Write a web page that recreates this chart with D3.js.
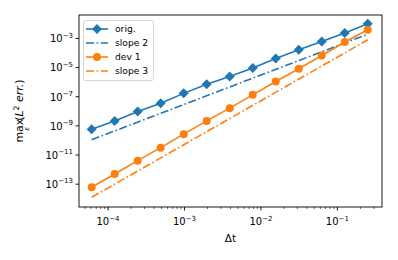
<!DOCTYPE html>
<html><head><meta charset="utf-8">
<script src="https://cdn.jsdelivr.net/npm/d3@7"></script>
<style>html,body{margin:0;padding:0;background:#fff;}svg{display:block;font-family:"DejaVu Sans",sans-serif;}</style>
</head><body>
<svg id="c" width="398" height="260"></svg>
<script>
const dt = [6.103515625e-5, 1.220703125e-4, 2.44140625e-4, 4.8828125e-4, 9.765625e-4, 1.953125e-3, 3.90625e-3, 7.8125e-3, 1.5625e-2, 3.125e-2, 6.25e-2, 0.125, 0.25];
const orig = [5.9e-10, 2.2e-9, 9.6e-9, 3.6e-8, 1.7e-7, 7.3e-7, 2.4e-6, 9.2e-6, 4.2e-5, 1.7e-4, 6.2e-4, 2.35e-3, 1.0e-2];
const dev1 = [6.1e-14, 5.0e-13, 4.1e-12, 3.2e-11, 2.7e-10, 2.2e-9, 1.64e-8, 1.35e-7, 1.11e-6, 8.3e-6, 6.8e-5, 5.7e-4, 3.96e-3];
const slopeDt = [6.103515625e-5, 0.25];
const slope2 = [1.12e-10, 1.95e-3];
const slope3 = [1.26e-14, 8.1e-4];
const xTickExp = [-4, -3, -2, -1];
const yTickExp = [-3, -5, -7, -9, -11, -13];
const legendLabels = ["orig.", "slope 2", "dev 1", "slope 3"];

const C0 = "#1f77b4", C1 = "#ff7f0e";
const L = 79, R = 382, T = 15, B = 207;
const svg = d3.select("#c");
const x = d3.scaleLog().domain([Math.pow(10,-4.380), Math.pow(10,-0.416)]).range([L, R]);
const y = d3.scaleLog().domain([Math.pow(10,-14.567), Math.pow(10,-1.392)]).range([B, T]);

const plot = svg.append("g");
const line = d3.line().x((d,i)=>x(d[0])).y(d=>y(d[1]));
const dashdot = "8,2.6,1.6,2.6";

function series(xs, ys){ return xs.map((v,i)=>[v, ys[i]]); }

plot.append("path").attr("d", line(series(slopeDt, slope2))).attr("fill","none").attr("stroke",C0).attr("stroke-width",1.6).attr("stroke-dasharray",dashdot);
plot.append("path").attr("d", line(series(slopeDt, slope3))).attr("fill","none").attr("stroke",C1).attr("stroke-width",1.6).attr("stroke-dasharray",dashdot);
plot.append("path").attr("d", line(series(dt, orig))).attr("fill","none").attr("stroke",C0).attr("stroke-width",1.6);
plot.append("path").attr("d", line(series(dt, dev1))).attr("fill","none").attr("stroke",C1).attr("stroke-width",1.6);

const dsz = 5;
plot.selectAll("path.dm").data(series(dt, orig)).enter().append("path").attr("class","dm")
  .attr("d", d=>{const cx=x(d[0]), cy=y(d[1]); return `M${cx},${cy-dsz}L${cx+dsz},${cy}L${cx},${cy+dsz}L${cx-dsz},${cy}Z`;})
  .attr("fill",C0);
plot.selectAll("circle.cm").data(series(dt, dev1)).enter().append("circle").attr("class","cm")
  .attr("cx",d=>x(d[0])).attr("cy",d=>y(d[1])).attr("r",4).attr("fill",C1);

// axes frame
svg.append("rect").attr("x",L).attr("y",T).attr("width",R-L).attr("height",B-T).attr("fill","none").attr("stroke","#000").attr("stroke-width",0.9);

// x ticks
const fs = 10;
xTickExp.forEach(e=>{
  const v = Math.pow(10,e), px = x(v);
  svg.append("line").attr("x1",px).attr("x2",px).attr("y1",B).attr("y2",B+3.5).attr("stroke","#000").attr("stroke-width",0.9);
  const t = svg.append("text").attr("x",px).attr("y",B+18).attr("text-anchor","middle").attr("font-size",fs).attr("fill","#000");
  t.append("tspan").text("10");
  t.append("tspan").attr("dy",-4.5).attr("font-size",fs*0.7).text("\u2212"+(-e));
});
const [xd0, xd1] = x.domain();
for(let e=-5;e<=0;e++){
  for(let k=2;k<=9;k++){
    const v = k*Math.pow(10,e);
    if(v<xd0||v>xd1) continue;
    const px = x(v);
    svg.append("line").attr("x1",px).attr("x2",px).attr("y1",B).attr("y2",B+2).attr("stroke","#000").attr("stroke-width",0.6);
  }
}
// y ticks
yTickExp.forEach(e=>{
  const v = Math.pow(10,e), py = y(v);
  svg.append("line").attr("x1",L-3.5).attr("x2",L).attr("y1",py).attr("y2",py).attr("stroke","#000").attr("stroke-width",0.9);
  const t = svg.append("text").attr("x",L-6).attr("y",py+3.8).attr("text-anchor","end").attr("font-size",fs).attr("fill","#000");
  t.append("tspan").text("10");
  t.append("tspan").attr("dy",-4.5).attr("font-size",fs*0.7).text("\u2212"+(-e));
});

// x label
svg.append("text").attr("x",(L+R)/2).attr("y",242).attr("text-anchor","middle").attr("font-size",10.5).attr("fill","#000").text("\u0394t");

// y label
const yl = svg.append("text").attr("transform",`translate(23,${(T+B)/2}) rotate(-90)`).attr("text-anchor","middle").attr("font-size",11).attr("fill","#000");
yl.append("tspan").text("max");
yl.append("tspan").attr("dx",-12).attr("dy",6).attr("font-size",7).attr("font-style","italic").text("\u03b5");
yl.append("tspan").attr("dx",6).attr("dy",-6).text("(");
yl.append("tspan").attr("font-style","italic").text("L");
yl.append("tspan").attr("dy",-4.5).attr("font-size",7.7).text("2");
yl.append("tspan").attr("dy",4.5).attr("font-style","italic").text(" err.");
yl.append("tspan").text(")");

// legend
const lg = svg.append("g");
lg.append("rect").attr("x",83.5).attr("y",20.5).attr("width",70).attr("height",60).attr("rx",2).attr("fill","#fff").attr("fill-opacity",0.8).attr("stroke","#ccc").attr("stroke-width",0.8);
const styles = [
  {c:C0, dash:null, m:"D"},
  {c:C0, dash:dashdot, m:null},
  {c:C1, dash:null, m:"o"},
  {c:C1, dash:dashdot, m:null}
];
legendLabels.forEach((lab,i)=>{
  const yy = 29 + i*14;
  const s = styles[i];
  const ln = lg.append("line").attr("x1",86).attr("x2",108).attr("y1",yy).attr("y2",yy).attr("stroke",s.c).attr("stroke-width",1.6);
  if(s.dash) ln.attr("stroke-dasharray",dashdot);
  if(s.m==="D") lg.append("path").attr("d",`M97,${yy-dsz}L${97+dsz},${yy}L97,${yy+dsz}L${97-dsz},${yy}Z`).attr("fill",s.c);
  if(s.m==="o") lg.append("circle").attr("cx",97).attr("cy",yy).attr("r",4).attr("fill",s.c);
  lg.append("text").attr("x",115).attr("y",yy+3.3).attr("font-size",9.2).attr("fill","#000").text(lab);
});
</script>
</body></html>
